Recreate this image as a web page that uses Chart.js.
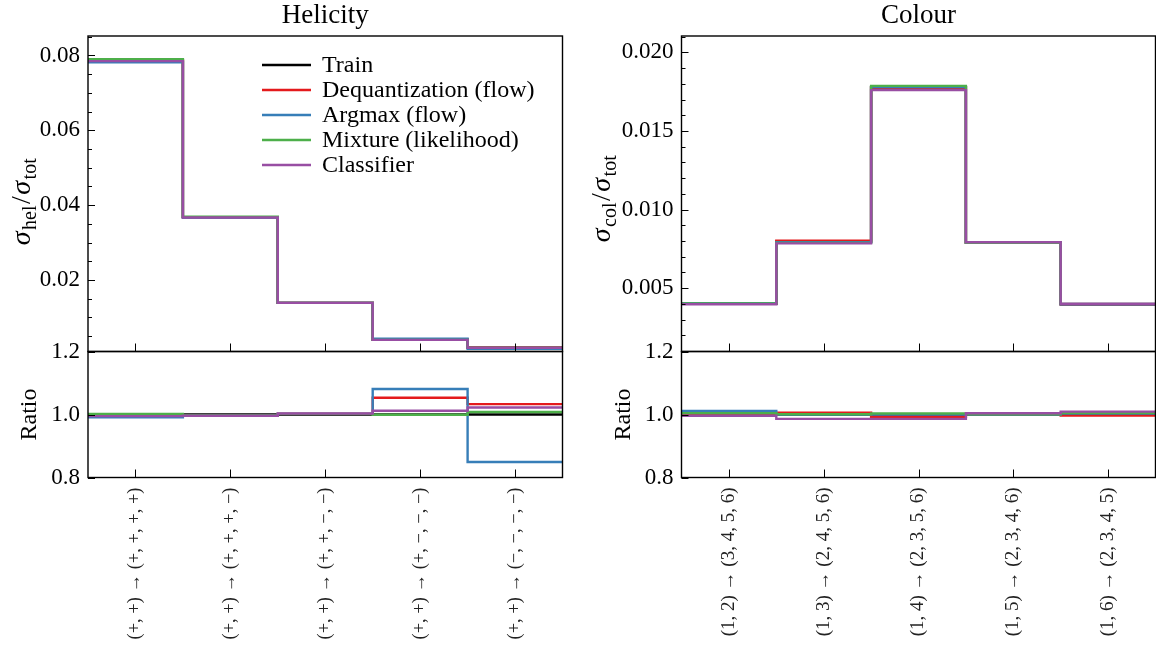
<!DOCTYPE html>
<html>
<head>
<meta charset="utf-8">
<script src="https://cdn.jsdelivr.net/npm/chart.js@4.4.0/dist/chart.umd.min.js"></script>
<style>
  body { margin: 0; background: #fff; width: 1156px; height: 647px; overflow: hidden; }
  canvas { position: absolute; left: 0; top: 0; }
</style>
</head>
<body>
<canvas id="helTop" width="1156" height="647"></canvas>
<canvas id="helRatio" width="1156" height="647"></canvas>
<canvas id="colTop" width="1156" height="647"></canvas>
<canvas id="colRatio" width="1156" height="647"></canvas>
<script>
// series
const seriesNames = ['Train', 'Dequantization (flow)', 'Argmax (flow)', 'Mixture (likelihood)', 'Classifier'];
const seriesColors = ['#000000', '#e41a1c', '#377eb8', '#4daf4a', '#984ea3'];

// helicity categories
const helLabels = [
  '(+, +) \u2192 (+, +, +, +)',
  '(+, +) \u2192 (+, +, +, \u2212)',
  '(+, +) \u2192 (+, +, \u2212, \u2212)',
  '(+, +) \u2192 (+, \u2212, \u2212, \u2212)',
  '(+, +) \u2192 (\u2212, \u2212, \u2212, \u2212)'
];
// sigma_hel / sigma_tot, one row per series
const helTrain   = [0.0787, 0.0368, 0.0139, 0.0040, 0.0019];
const helDequant = [0.0787, 0.0368, 0.0139, 0.0042, 0.0020];
const helArgmax  = [0.0782, 0.0367, 0.0139, 0.0043, 0.0016];
const helMixture = [0.0790, 0.0369, 0.0139, 0.0040, 0.0019];
const helClassif = [0.0785, 0.0367, 0.0139, 0.0040, 0.0019];
// ratio to train
const helRatioTrain   = [1.000, 1.000, 1.000, 1.000, 1.000];
const helRatioDequant = [0.997, 0.996, 1.002, 1.053, 1.033];
const helRatioArgmax  = [0.991, 0.996, 1.002, 1.081, 0.849];
const helRatioMixture = [1.002, 0.997, 1.002, 0.999, 1.008];
const helRatioClassif = [0.995, 0.996, 1.003, 1.012, 1.022];
const helTicks = [0.02, 0.04, 0.06, 0.08];

// colour categories
const colLabels = [
  '(1, 2) \u2192 (3, 4, 5, 6)',
  '(1, 3) \u2192 (2, 4, 5, 6)',
  '(1, 4) \u2192 (2, 3, 5, 6)',
  '(1, 5) \u2192 (2, 3, 4, 6)',
  '(1, 6) \u2192 (2, 3, 4, 5)'
];
const colTrain   = [0.00400, 0.00795, 0.01778, 0.00790, 0.00398];
const colDequant = [0.00400, 0.00802, 0.01776, 0.00790, 0.00397];
const colArgmax  = [0.00404, 0.00793, 0.01780, 0.00790, 0.00398];
const colMixture = [0.00402, 0.00788, 0.01787, 0.00788, 0.00400];
const colClassif = [0.00398, 0.00785, 0.01760, 0.00792, 0.00401];
const colRatioTrain   = [1.000, 1.000, 1.000, 1.000, 1.000];
const colRatioDequant = [1.000, 1.006, 0.993, 1.000, 0.997];
const colRatioArgmax  = [1.011, 1.000, 1.000, 1.000, 1.003];
const colRatioMixture = [1.004, 1.001, 1.003, 1.001, 1.005];
const colRatioClassif = [0.996, 0.986, 0.986, 1.004, 1.009];
const colTicks = [0.005, 0.010, 0.015, 0.020];

const ratioTicks = [0.8, 1.0, 1.2];

const FONT = '"Liberation Serif", "DejaVu Serif", serif';
Chart.defaults.font.family = FONT;
Chart.defaults.color = '#000';

function stepPoints(vals) {
  const pts = vals.map((v, i) => ({ x: i, y: v }));
  pts.push({ x: vals.length, y: vals[vals.length - 1] });
  return pts;
}

function buildDatasets(rows) {
  return rows.map((row, k) => ({
    label: seriesNames[k],
    data: stepPoints(row),
    borderColor: seriesColors[k],
    borderWidth: 2.4,
    stepped: 'before',
    pointRadius: 0,
    fill: false,
    order: -k   // later series on top, like the reference
  }));
}

function line(ctx, x1, y1, x2, y2) {
  ctx.beginPath(); ctx.moveTo(x1, y1); ctx.lineTo(x2, y2); ctx.stroke();
}

// y label like sigma_hel / sigma_tot, drawn rotated
function drawSigmaLabel(ctx, cx, cy, sub) {
  const big = 'italic 28px ' + FONT, rom = '28px ' + FONT, small = '20px ' + FONT;
  const parts = [
    { t: '\u03c3', f: big, dy: 0 }, { t: sub, f: small, dy: 6 },
    { t: '/', f: rom, dy: 0 },
    { t: '\u03c3', f: big, dy: 0 }, { t: 'tot', f: small, dy: 6 }
  ];
  let w = 0;
  parts.forEach(p => { ctx.font = p.f; p.w = ctx.measureText(p.t).width; w += p.w + 1.5; });
  ctx.save();
  ctx.translate(cx, cy);
  ctx.rotate(-Math.PI / 2);
  ctx.textBaseline = 'alphabetic';
  ctx.textAlign = 'left';
  let x = -w / 2;
  parts.forEach(p => { ctx.font = p.f; ctx.fillText(p.t, x, 8 + p.dy); x += p.w + 1.5; });
  ctx.restore();
}

const framePlugin = {
  id: 'frame',
  afterDraw(chart, args, o) {
    const { ctx, chartArea: a } = chart;
    const xs = chart.scales.x, ys = chart.scales.y;
    ctx.save();
    ctx.strokeStyle = '#000';
    ctx.fillStyle = '#000';
    ctx.lineWidth = 1;
    // major y ticks, inward
    ys.ticks.forEach(t => {
      const y = Math.round(ys.getPixelForValue(t.value)) + 0.5;
      line(ctx, a.left, y, a.left + 7, y);
    });
    // minor y ticks
    if (o.minor) {
      for (let k = Math.ceil(ys.min / o.minor); k * o.minor <= ys.max; k++) {
        const v = k * o.minor;
        if (ys.ticks.some(t => Math.abs(t.value - v) < o.minor / 10)) continue;
        const y = Math.round(ys.getPixelForValue(v)) + 0.5;
        line(ctx, a.left, y, a.left + 4, y);
      }
    }
    // x ticks at bin centres, inward from the bottom
    o.centres.forEach(c => {
      const x = Math.round(xs.getPixelForValue(c)) + 0.5;
      line(ctx, x, a.bottom, x, a.bottom - 8);
    });
    ctx.lineWidth = 1.4;
    ctx.strokeRect(a.left, a.top, a.right - a.left, a.bottom - a.top);

    if (o.title) {
      ctx.font = '27px ' + FONT;
      ctx.textAlign = 'center';
      ctx.textBaseline = 'alphabetic';
      ctx.fillText(o.title, (a.left + a.right) / 2, 23);
    }
    if (o.sigma) drawSigmaLabel(ctx, o.labelX, o.labelY, o.sigma);
    if (o.ratioLabel) {
      ctx.save();
      ctx.translate(o.labelX, (a.top + a.bottom) / 2);
      ctx.rotate(-Math.PI / 2);
      ctx.font = '24px ' + FONT;
      ctx.textAlign = 'center';
      ctx.textBaseline = 'middle';
      ctx.fillText('Ratio', 0, 0);
      ctx.restore();
    }
    if (o.legend) {
      ctx.font = '24px ' + FONT;
      ctx.textAlign = 'left';
      ctx.textBaseline = 'middle';
      chart.data.datasets.forEach((ds, k) => {
        const y = a.top + 29 + k * 25;
        ctx.strokeStyle = ds.borderColor;
        ctx.lineWidth = 2.4;
        line(ctx, a.left + 174, y, a.left + 223, y);
        ctx.fillText(ds.label, a.left + 234, y + 1);
      });
    }
    ctx.restore();
  }
};

function panel(id, cfg) {
  const centres = cfg.labels.map((_, i) => i + 0.5);
  const xScale = {
    type: 'linear', min: 0, max: cfg.labels.length,
    display: !!cfg.showX,
    grid: { display: false, drawTicks: false },
    border: { display: false },
    afterBuildTicks: s => { s.ticks = centres.map(v => ({ value: v })); },
    ticks: {
      autoSkip: false, minRotation: 90, maxRotation: 90, padding: 10,
      color: '#222',
      font: { size: cfg.xFont },
      callback: (v, i) => cfg.labels[i]
    }
  };
  if (cfg.showX) xScale.afterFit = s => { s.height = cfg.xHeight; };
  return new Chart(document.getElementById(id), {
    type: 'line',
    data: { datasets: buildDatasets(cfg.rows) },
    options: {
      responsive: false,
      animation: false,
      devicePixelRatio: 1,
      layout: { padding: cfg.pad },
      plugins: {
        legend: { display: false },
        tooltip: { enabled: false },
        frame: Object.assign({ centres: centres }, cfg.frame)
      },
      scales: {
        x: xScale,
        y: {
          min: cfg.yMin, max: cfg.yMax,
          grid: { display: false, drawTicks: false },
          border: { display: false },
          afterBuildTicks: s => { s.ticks = cfg.yTicks.map(v => ({ value: v })); },
          afterFit: s => { s.width = cfg.yWidth; },
          ticks: { padding: 8, font: { size: 23 }, callback: v => v.toFixed(cfg.dec) }
        }
      }
    },
    plugins: [framePlugin]
  });
}

panel('helTop', {
  labels: helLabels,
  rows: [helTrain, helDequant, helArgmax, helMixture, helClassif],
  yMin: 0.0009, yMax: 0.0852, yTicks: helTicks, dec: 2, yWidth: 88,
  pad: { left: 0, top: 36, right: 593.5, bottom: 295.5 },
  frame: { minor: 0.005, title: 'Helicity', sigma: 'hel', labelX: 22, labelY: 201, legend: true }
});
panel('helRatio', {
  labels: helLabels, showX: true, xHeight: 169.5, xFont: 18.5,
  rows: [helRatioTrain, helRatioDequant, helRatioArgmax, helRatioMixture, helRatioClassif],
  yMin: 0.8, yMax: 1.2, yTicks: ratioTicks, dec: 1, yWidth: 88,
  pad: { left: 0, top: 351.5, right: 593.5, bottom: 0 },
  frame: { ratioLabel: true, labelX: 30 }
});
panel('colTop', {
  labels: colLabels,
  rows: [colTrain, colDequant, colArgmax, colMixture, colClassif],
  yMin: 0.00097, yMax: 0.02104, yTicks: colTicks, dec: 3, yWidth: 100,
  pad: { left: 581.5, top: 36, right: 0.5, bottom: 295.5 },
  frame: { minor: 0.001, title: 'Colour', sigma: 'col', labelX: 602, labelY: 198 }
});
panel('colRatio', {
  labels: colLabels, showX: true, xHeight: 169.5, xFont: 19,
  rows: [colRatioTrain, colRatioDequant, colRatioArgmax, colRatioMixture, colRatioClassif],
  yMin: 0.8, yMax: 1.2, yTicks: ratioTicks, dec: 1, yWidth: 100,
  pad: { left: 581.5, top: 351.5, right: 0.5, bottom: 0 },
  frame: { ratioLabel: true, labelX: 624 }
});
</script>
</body>
</html>
